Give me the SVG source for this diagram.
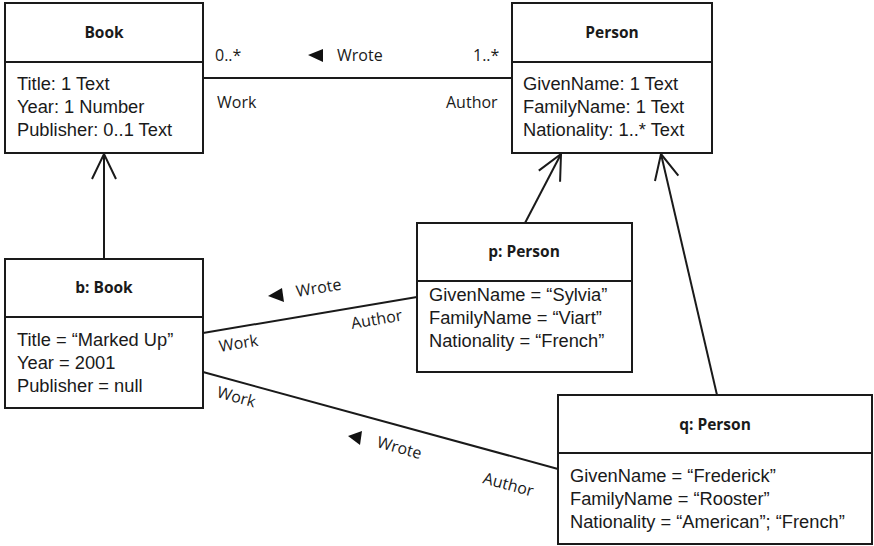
<svg xmlns="http://www.w3.org/2000/svg" width="874" height="546" viewBox="0 0 874 546">
  <style>
    .box { fill: #ffffff; stroke: #1a1a1a; stroke-width: 2; }
    .div { stroke: #1a1a1a; stroke-width: 2; }
    .edge { stroke: #1a1a1a; stroke-width: 2; fill: none; }
    .head { font-family: "Open Sans", "Noto Sans", sans-serif; font-weight: bold; font-size: 15.5px; fill: #1a1a1a; text-anchor: middle; }
    .attr { font-family: "Liberation Sans", Arial, sans-serif; font-size: 18.3px; fill: #1a1a1a; }
    .lbl { font-family: "Open Sans", "Noto Sans", sans-serif; font-size: 16px; fill: #1a1a1a; }
    .tri { fill: #111111; }
  </style>
  <defs>
    <marker id="open" markerUnits="userSpaceOnUse" markerWidth="40" markerHeight="40" refX="0" refY="0" orient="auto" overflow="visible">
      <path d="M-25,-12 L0,0 L-25,12" fill="none" stroke="#1a1a1a" stroke-width="2"/>
    </marker>
  </defs>

  <!-- connectors -->
  <g id="connectors">
    <line class="edge" x1="104" y1="259" x2="104" y2="154" marker-end="url(#open)"/>
    <line class="edge" x1="525" y1="223" x2="561" y2="154" marker-end="url(#open)"/>
    <line class="edge" x1="717" y1="395" x2="661" y2="154" marker-end="url(#open)"/>

    <line class="edge" x1="203" y1="78" x2="512" y2="78"/>
    <text class="lbl" x="215" y="61">0..*</text>
    <polygon class="tri" points="308,55 323,49 323,62"/>
    <text class="lbl" x="337" y="61">Wrote</text>
    <text class="lbl" x="473" y="61">1..*</text>
    <text class="lbl" x="217" y="108">Work</text>
    <text class="lbl" x="446" y="108">Author</text>

    <line class="edge" x1="203" y1="333" x2="417" y2="297"/>
    <text class="lbl" x="220" y="352" transform="rotate(-9.5 220 352)">Work</text>
    <text class="lbl" x="352" y="329" transform="rotate(-9.5 352 329)">Author</text>
    <polygon class="tri" points="268,296 282,288 284,302"/>
    <text class="lbl" x="297" y="297" transform="rotate(-9.5 297 297)">Wrote</text>

    <line class="edge" x1="203" y1="372" x2="558" y2="469"/>
    <text class="lbl" x="216" y="397" transform="rotate(15.3 216 397)">Work</text>
    <polygon class="tri" points="348,436 362,431 360,445"/>
    <text class="lbl" x="376" y="447" transform="rotate(15.3 376 447)">Wrote</text>
    <text class="lbl" x="482" y="483" transform="rotate(15.3 482 483)">Author</text>
  </g>

  <!-- class Book -->
  <g id="book">
    <rect class="box" x="5" y="3" width="198" height="150"/>
    <line class="div" x1="5" y1="62" x2="203" y2="62"/>
    <text class="head" x="104" y="38">Book</text>
    <text class="attr" x="17" y="90">Title: 1 Text</text>
    <text class="attr" x="17" y="113">Year: 1 Number</text>
    <text class="attr" x="17" y="136">Publisher: 0..1 Text</text>
  </g>

  <!-- class Person -->
  <g id="person">
    <rect class="box" x="512" y="3" width="200" height="150"/>
    <line class="div" x1="512" y1="62" x2="712" y2="62"/>
    <text class="head" x="612" y="38">Person</text>
    <text class="attr" x="523" y="90">GivenName: 1 Text</text>
    <text class="attr" x="523" y="113">FamilyName: 1 Text</text>
    <text class="attr" x="523" y="136">Nationality: 1..* Text</text>
  </g>

  <!-- object b -->
  <g id="b-book">
    <rect class="box" x="5" y="259" width="198" height="149"/>
    <line class="div" x1="5" y1="317" x2="203" y2="317"/>
    <text class="head" x="104" y="293">b: Book</text>
    <text class="attr" x="17" y="346">Title = “Marked Up”</text>
    <text class="attr" x="17" y="369">Year = 2001</text>
    <text class="attr" x="17" y="392">Publisher = null</text>
  </g>

  <!-- object p -->
  <g id="p-person">
    <rect class="box" x="417" y="223" width="215" height="149"/>
    <line class="div" x1="417" y1="281" x2="632" y2="281"/>
    <text class="head" x="524" y="257">p: Person</text>
    <text class="attr" x="429" y="301">GivenName = “Sylvia”</text>
    <text class="attr" x="429" y="324">FamilyName = “Viart”</text>
    <text class="attr" x="429" y="347">Nationality = “French”</text>
  </g>

  <!-- object q -->
  <g id="q-person">
    <rect class="box" x="558" y="395" width="314" height="149"/>
    <line class="div" x1="558" y1="453" x2="872" y2="453"/>
    <text class="head" x="715" y="430">q: Person</text>
    <text class="attr" x="570" y="482">GivenName = “Frederick”</text>
    <text class="attr" x="570" y="505">FamilyName = “Rooster”</text>
    <text class="attr" x="570" y="528">Nationality = “American”; “French”</text>
  </g>
</svg>
